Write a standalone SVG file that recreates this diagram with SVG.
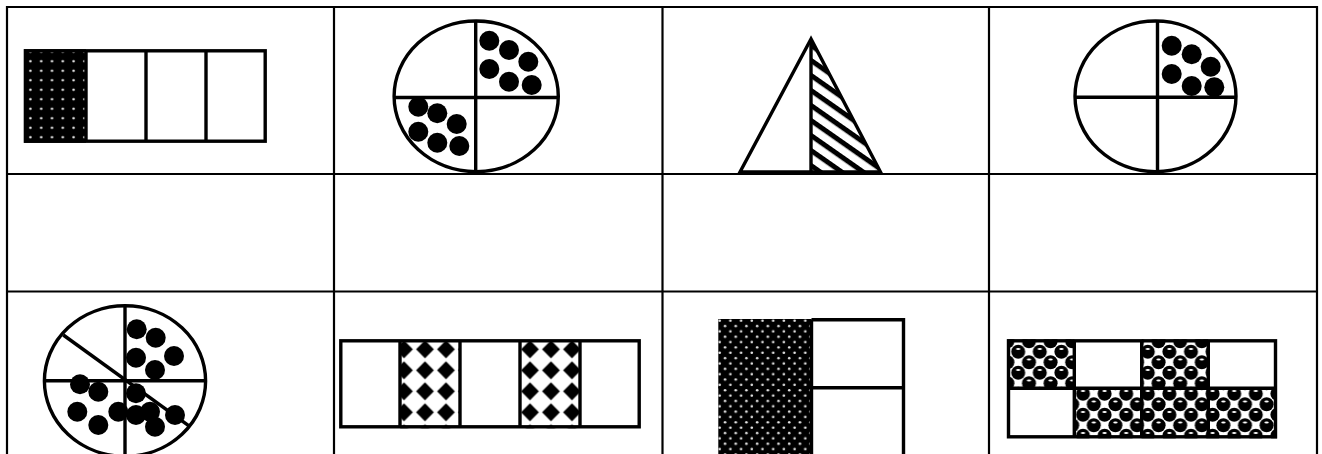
<svg xmlns="http://www.w3.org/2000/svg" width="1322" height="454" viewBox="0 0 1322 454">
<style>
.grid{stroke:#000;stroke-width:2.2;fill:none}
.ol{stroke:#000;stroke-width:3.4;fill:none}
.dot{fill:#000}
</style>
<defs>
<pattern id="dotsA" patternUnits="userSpaceOnUse" x="25" y="47" width="10.8" height="9.5">
<rect width="10.8" height="9.5" fill="#000"/>
<circle cx="5.4" cy="4.75" r="1.3" fill="#e6e6e6"/>
</pattern>
<pattern id="dotsB" patternUnits="userSpaceOnUse" x="717" y="318" width="10.7" height="10.7">
<rect width="10.7" height="10.7" fill="#000"/>
<circle cx="2.7" cy="2.7" r="1.3" fill="#e6e6e6"/>
<circle cx="8.05" cy="8.05" r="1.3" fill="#e6e6e6"/>
</pattern>
<pattern id="stripes" patternUnits="userSpaceOnUse" width="12.3" height="12.3" patternTransform="rotate(35)">
<rect width="12.3" height="12.3" fill="#fff"/>
<rect width="12.3" height="5" fill="#000"/>
</pattern>
<pattern id="diamonds" patternUnits="userSpaceOnUse" x="-5.5" y="2.8" width="21" height="21">
<rect width="21" height="21" fill="#fff"/>
<polygon points="10.5,1.6 19.4,10.5 10.5,19.4 1.6,10.5" fill="#000"/>
</pattern>
<pattern id="spheres" patternUnits="userSpaceOnUse" x="1002" y="336" width="21.6" height="21">
<rect width="21.6" height="21" fill="#fff"/>
<g fill="#000">
<circle cx="5.4" cy="5.25" r="7"/>
<circle cx="27" cy="5.25" r="7"/>
<circle cx="5.4" cy="26.25" r="7"/>
<circle cx="27" cy="26.25" r="7"/>
<circle cx="16.2" cy="15.75" r="7"/>
<circle cx="-5.4" cy="15.75" r="7"/>
<circle cx="16.2" cy="-5.25" r="7"/>
<circle cx="-5.4" cy="-5.25" r="7"/>
</g>
<g fill="#fff">
<ellipse cx="5.4" cy="2.6" rx="2.2" ry="1"/>
<ellipse cx="16.2" cy="13.1" rx="2.2" ry="1"/>
</g>
</pattern>
</defs>
<rect width="1322" height="454" fill="#fff"/>

<g id="cell1">
<rect x="24" y="49.3" width="62" height="93.4" fill="url(#dotsA)"/>
<rect class="ol" x="25.4" y="50.8" width="239.8" height="90.4"/>
<line class="ol" x1="86" y1="50.8" x2="86" y2="141.2"/>
<line class="ol" x1="146" y1="50.8" x2="146" y2="141.2"/>
<line class="ol" x1="206" y1="50.8" x2="206" y2="141.2"/>
</g>

<g id="cell2">
<ellipse class="ol" cx="476.2" cy="96.3" rx="82.1" ry="75.3"/>
<line class="ol" x1="475.7" y1="21" x2="475.7" y2="172"/>
<line class="ol" x1="394" y1="97.5" x2="558.5" y2="97.5"/>
<g class="dot">
<circle cx="489.3" cy="40.7" r="10"/>
<circle cx="509" cy="50" r="10"/>
<circle cx="528.3" cy="61.7" r="10"/>
<circle cx="489.3" cy="69" r="10"/>
<circle cx="509" cy="81.7" r="10"/>
<circle cx="531.7" cy="85" r="10"/>
<circle cx="418.3" cy="106.7" r="10"/>
<circle cx="437.3" cy="113.3" r="10"/>
<circle cx="456.7" cy="124" r="10"/>
<circle cx="418.3" cy="131.7" r="10"/>
<circle cx="437.3" cy="142.7" r="10"/>
<circle cx="459.3" cy="146" r="10"/>
</g>
</g>

<g id="cell3">
<polygon points="811,39 811,172 880,172" fill="url(#stripes)"/>
<polygon class="ol" points="811,39 740,172 880.5,172"/>
<line class="ol" x1="811" y1="39" x2="811" y2="172"/>
</g>

<g id="cell4">
<ellipse class="ol" cx="1155.5" cy="96.3" rx="80.5" ry="75.3"/>
<line class="ol" x1="1157.5" y1="21" x2="1157.5" y2="172"/>
<line class="ol" x1="1075" y1="97.3" x2="1236" y2="97.3"/>
<g class="dot">
<circle cx="1171.7" cy="45.7" r="10"/>
<circle cx="1191.7" cy="54.3" r="10"/>
<circle cx="1210.7" cy="66.7" r="10"/>
<circle cx="1171.7" cy="74" r="10"/>
<circle cx="1191.7" cy="86" r="10"/>
<circle cx="1214.3" cy="87.3" r="10"/>
</g>
</g>

<g id="cell5">
<ellipse class="ol" cx="125" cy="381" rx="80.6" ry="75.3"/>
<line class="ol" x1="125" y1="305.5" x2="125" y2="458"/>
<line class="ol" x1="44.2" y1="380.7" x2="205.8" y2="380.7"/>
<line class="ol" x1="63.3" y1="335" x2="190" y2="426.7"/>
<g class="dot">
<circle cx="136.7" cy="329.3" r="10"/>
<circle cx="155.7" cy="337.7" r="10"/>
<circle cx="174" cy="356" r="10"/>
<circle cx="136" cy="357.7" r="10"/>
<circle cx="155" cy="370" r="10"/>
<circle cx="80" cy="384.3" r="10"/>
<circle cx="98.3" cy="391.7" r="10"/>
<circle cx="77.3" cy="411.7" r="10"/>
<circle cx="118.3" cy="411.7" r="10"/>
<circle cx="98.3" cy="425" r="10"/>
<circle cx="136" cy="393.3" r="10"/>
<circle cx="136" cy="415" r="10"/>
<circle cx="150" cy="411.7" r="10"/>
<circle cx="155" cy="426.7" r="10"/>
<circle cx="175" cy="415" r="10"/>
</g>
</g>

<g id="cell6">
<rect x="400" y="339.3" width="60" height="89" fill="url(#diamonds)"/>
<rect x="520" y="339.3" width="60" height="89" fill="url(#diamonds)"/>
<rect class="ol" x="340.8" y="340.8" width="298.4" height="86"/>
<line class="ol" x1="400" y1="340.8" x2="400" y2="426.8"/>
<line class="ol" x1="460" y1="340.8" x2="460" y2="426.8"/>
<line class="ol" x1="520" y1="340.8" x2="520" y2="426.8"/>
<line class="ol" x1="580" y1="340.8" x2="580" y2="426.8"/>
</g>

<g id="cell7">
<rect x="718.3" y="319" width="93.4" height="145" fill="url(#dotsB)"/>
<line x1="718.3" y1="387.5" x2="811.7" y2="387.5" stroke="#000" stroke-width="2"/>
<path class="ol" d="M811.5 319.8 H903.5 V460 M811.5 319.8 V460 M811.5 387.8 H903.5"/>
</g>

<g id="cell8">
<rect x="1007" y="339.3" width="67.3" height="49" fill="url(#spheres)"/>
<rect x="1141.7" y="339.3" width="66.6" height="49" fill="url(#spheres)"/>
<rect x="1074.3" y="388.3" width="67.4" height="50" fill="url(#spheres)"/>
<rect x="1141.7" y="388.3" width="66.6" height="50" fill="url(#spheres)"/>
<rect x="1208.3" y="388.3" width="68.7" height="50" fill="url(#spheres)"/>
<rect class="ol" x="1008.5" y="340.8" width="267" height="96"/>
<line class="ol" x1="1074.3" y1="340.8" x2="1074.3" y2="436.8"/>
<line class="ol" x1="1141.7" y1="340.8" x2="1141.7" y2="436.8"/>
<line class="ol" x1="1208.3" y1="340.8" x2="1208.3" y2="436.8"/>
<line class="ol" x1="1008.5" y1="388.3" x2="1275.5" y2="388.3"/>
</g>

<g id="table" class="grid">
<line x1="6" y1="7" x2="1318" y2="7"/>
<line x1="6" y1="174" x2="1318" y2="174"/>
<line x1="6" y1="291.5" x2="1318" y2="291.5"/>
<line x1="7" y1="6" x2="7" y2="460"/>
<line x1="334" y1="6" x2="334" y2="460"/>
<line x1="662.5" y1="6" x2="662.5" y2="460"/>
<line x1="989" y1="6" x2="989" y2="460"/>
<line x1="1317" y1="6" x2="1317" y2="460"/>
</g>
</svg>
